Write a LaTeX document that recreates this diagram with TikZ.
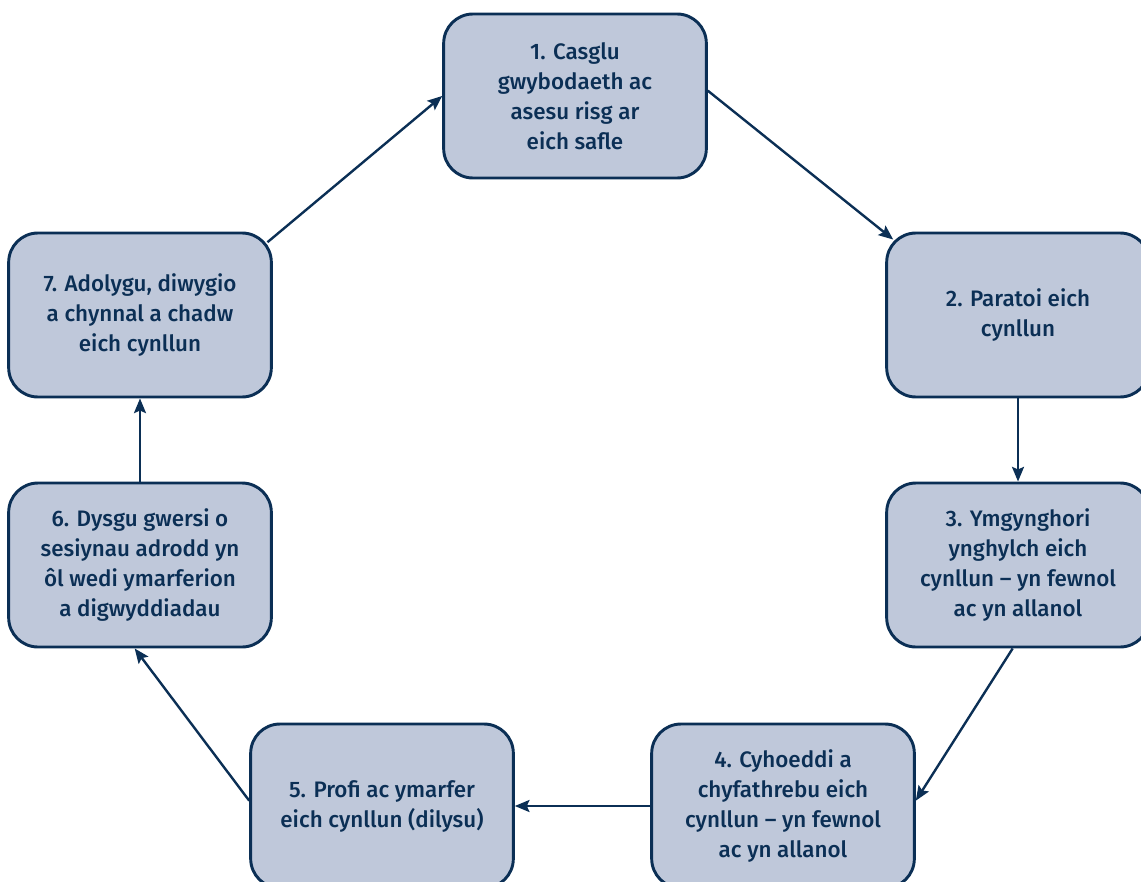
\documentclass[tikz,border=0pt]{standalone}
\usepackage{fontspec}
\setmainfont{Fira Sans}[UprightFont={* Medium}]
\usetikzlibrary{arrows.meta}
\definecolor{navy}{HTML}{0B2F55}
\definecolor{boxfill}{HTML}{BFC8DA}
\begin{document}
\begin{tikzpicture}[x=0.75pt,y=-0.75pt,
	stepbox/.style={draw=navy,fill=boxfill,line width=2.2pt,rounded corners=22pt,
		minimum width=197pt,minimum height=123pt,inner sep=0pt,align=center,
		text=navy,font=\fontsize{16.8}{22.5}\selectfont},
	link/.style={draw=navy,line width=1.8pt,-{Stealth[length=11pt,width=9pt,inset=2pt]}}]
	\useasboundingbox (0,0) rectangle (1141,881);
	\node[stepbox] (b1) at (575,96)   {1. Casglu\\gwybodaeth ac\\asesu risg ar\\eich safle};
	\node[stepbox] (b2) at (1018,315) {2. Paratoi eich\\cynllun};
	\node[stepbox] (b3) at (1018,565) {3. Ymgynghori\\ynghylch eich\\cynllun -- yn fewnol\\ac yn allanol};
	\node[stepbox] (b4) at (783,806)  {4. Cyhoeddi a\\chyfathrebu eich\\cynllun -- yn fewnol\\ac yn allanol};
	\node[stepbox] (b5) at (382,806)  {5. Profi ac ymarfer\\eich cynllun (dilysu)};
	\node[stepbox] (b6) at (140,565)  {6. Dysgu gwersi o\\sesiynau adrodd yn\\ôl wedi ymarferion\\a digwyddiadau};
	\node[stepbox] (b7) at (140,315)  {7. Adolygu, diwygio\\a chynnal a chadw\\eich cynllun};
	%
	\draw[link] ([yshift=4pt]b1.east) -- ([xshift=6pt,yshift=-6pt]b2.north west);
	\draw[link] (b2.south) -- (b3.north);
	\draw[link] ([xshift=-4pt]b3.south) -- ([yshift=4pt]b4.east);
	\draw[link] (b4.west) -- (b5.east);
	\draw[link] ([yshift=4pt]b5.west) -- ([xshift=-4pt]b6.south);
	\draw[link] (b6.north) -- (b7.south);
	\draw[link] ([xshift=-4pt,yshift=-8pt]b7.north east) -- (b1.west);
\end{tikzpicture}
\end{document}
